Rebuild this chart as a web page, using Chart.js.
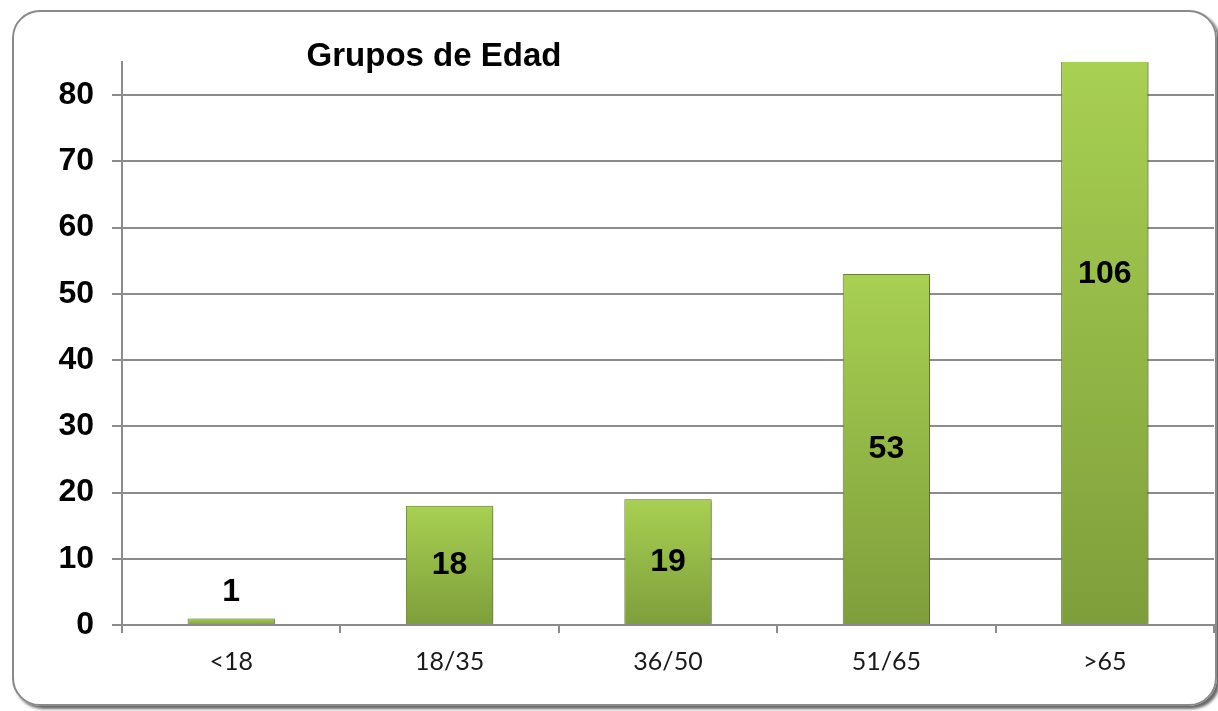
<!DOCTYPE html>
<html>
<head>
<meta charset="utf-8">
<script src="https://cdn.jsdelivr.net/npm/chart.js@4/dist/chart.umd.min.js"></script>
<style>
  html, body { margin: 0; padding: 0; background: #fff; width: 1218px; height: 711px; overflow: hidden; }
  #marco {
    position: absolute; left: 12px; top: 10px; width: 1201px; height: 692px;
    border: 2px solid #8a8a8a; border-radius: 28px;
    box-shadow: 3px 3px 3px rgba(0,0,0,0.6);
  }
  #grafico { position: absolute; left: 0; top: 0; }
</style>
</head>
<body>
<div id="marco"></div>
<canvas id="grafico" width="1218" height="711"></canvas>
<script>
// Datos
const grupos = ['<18', '18/35', '36/50', '51/65', '>65'];
const pacientes = [1, 18, 19, 53, 106];
const marcasY = [0, 10, 20, 30, 40, 50, 60, 70, 80];
const titulo = 'Grupos de Edad';

// Título dentro del área del gráfico
const pluginTitulo = {
    id: 'pluginTitulo',
    afterDraw(chart) {
        const ctx = chart.ctx;
        ctx.save();
        ctx.font = 'bold 33px "Liberation Sans", Arial, sans-serif';
        ctx.fillStyle = '#000';
        ctx.textAlign = 'center';
        ctx.textBaseline = 'alphabetic';
        ctx.fillText(titulo, 434, 66);
        ctx.restore();
    }
};

// Etiquetas de valor: centradas en la barra completa, encima si la barra es muy baja
const pluginEtiquetas = {
    id: 'pluginEtiquetas',
    afterDatasetsDraw(chart) {
        const ctx = chart.ctx;
        const y = chart.scales.y;
        const meta = chart.getDatasetMeta(0);
        ctx.save();
        ctx.font = 'bold 32px "Liberation Sans", Arial, sans-serif';
        ctx.fillStyle = '#000';
        ctx.textAlign = 'center';
        ctx.textBaseline = 'middle';
        meta.data.forEach((barra, i) => {
            const v = pacientes[i];
            const arriba = y.getPixelForValue(v);
            const base = y.getPixelForValue(0);
            let py = (arriba + base) / 2;
            if (base - arriba < 30) py = arriba - 26;
            ctx.fillText(String(v), barra.x, py);
        });
        ctx.restore();
    }
};

// Sombra de las barras
const pluginSombra = {
    id: 'pluginSombra',
    beforeDatasetsDraw(chart) {
        const ctx = chart.ctx;
        ctx.save();
        ctx.shadowColor = 'rgba(0,0,0,0.35)';
        ctx.shadowBlur = 4;
        ctx.shadowOffsetX = 2;
        ctx.shadowOffsetY = 1;
    },
    afterDatasetsDraw(chart) {
        chart.ctx.restore();
    }
};

// Degradado propio de cada barra (claro arriba, oscuro abajo)
function degradado(context) {
    const chart = context.chart;
    const area = chart.chartArea;
    const y = chart.scales.y;
    if (!area || !y || context.dataIndex === undefined) return '#93b847';
    const top = Math.max(area.top, y.getPixelForValue(pacientes[context.dataIndex]));
    const bottom = y.getPixelForValue(0);
    const g = chart.ctx.createLinearGradient(0, top, 0, Math.max(bottom, top + 1));
    g.addColorStop(0, '#a8d052');
    g.addColorStop(1, '#7e9e3b');
    return g;
}

new Chart(document.getElementById('grafico').getContext('2d'), {
    type: 'bar',
    data: {
        labels: grupos,
        datasets: [{
            data: pacientes,
            backgroundColor: degradado,
            borderColor: '#6f8a32',
            borderWidth: 1,
            categoryPercentage: 1,
            barPercentage: 0.4
        }]
    },
    options: {
        responsive: false,
        animation: false,
        layout: { padding: { top: 62, right: 4, left: 0, bottom: 0 } },
        plugins: {
            legend: { display: false },
            title: { display: false },
            tooltip: { enabled: false }
        },
        scales: {
            x: {
                grid: { drawOnChartArea: false, drawTicks: true, tickLength: 8, color: '#8c8c8c', lineWidth: 2 },
                border: { display: true, color: '#8c8c8c', width: 2 },
                ticks: { color: '#1a1a1a', padding: 14, font: { family: 'Lato', size: 25 } },
                afterFit(scale) { scale.height = 86; }
            },
            y: {
                min: 0,
                max: 85,
                grid: { color: '#8c8c8c', lineWidth: 2, tickLength: 10 },
                border: { display: true, color: '#8c8c8c', width: 2 },
                ticks: {
                    autoSkip: false,
                    color: '#000',
                    padding: 18,
                    font: { family: 'Liberation Sans', size: 32, weight: 'bold' }
                },
                afterBuildTicks(scale) {
                    scale.ticks = marcasY.map(v => ({ value: v }));
                },
                afterFit(scale) { scale.width = 122; }
            }
        }
    },
    plugins: [pluginSombra, pluginEtiquetas, pluginTitulo]
});
</script>
</body>
</html>
